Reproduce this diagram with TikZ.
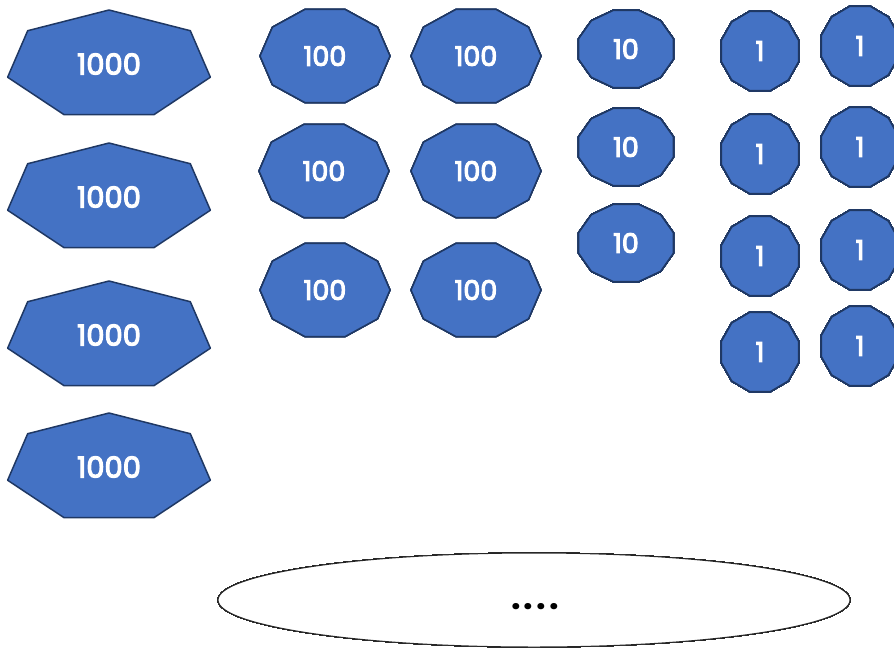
\documentclass[tikz,border=0pt]{standalone}
\usepackage{fontspec}
\usetikzlibrary{shapes.geometric}
\setmainfont{Poppins}
\newfontfamily\coinfont{Poppins}[FakeBold=4]
\definecolor{coinblue}{HTML}{4472C4}
\definecolor{coinedge}{HTML}{1F3864}
\tikzset{
  coinline/.style={draw=coinedge, fill=coinblue, line width=1.5pt, line join=round},
  coinlbl/.style={text=white, inner sep=0pt, font=\coinfont\fontsize{27}{27}\selectfont},
}
% name, x, y, rx, ry, sides, start angle, label
\newcommand{\coin}[8]{%
  \draw[coinline] plot[variable=\t, samples=\the\numexpr#6+1\relax, domain=#7:#7+360]
    ({#2+#4*cos(\t)},{#3+#5*sin(\t)}) -- cycle;
  \node[coinlbl] (#1) at (#2,#3) {#8};}
\begin{document}
\begin{tikzpicture}[x=1pt, y=-1pt]
  \useasboundingbox (0,0) rectangle (894,648);
  \clip (0,0) rectangle (894,648);
  % thousands
  \foreach \n/\cy in {1/65,2/198,3/336,4/468}
    \coin{th\n}{109}{\cy}{104}{55}{7}{270}{\fontsize{29}{29}\selectfont\raisebox{2pt}{1000}}
  % hundreds
  \foreach \n/\cx/\cy in {1/325/56,2/476/56,3/324/171,4/476/171,5/325/290,6/476/290}
    \coin{hu\n}{\cx}{\cy}{65}{49}{10}{0}{100}
  % tens
  \foreach \n/\cy in {1/49,2/147,3/243}
    \coin{te\n}{626}{\cy}{49}{40}{12}{15}{10}
  % ones
  \foreach \n/\cx/\cy in {1/760/51,2/860/46,3/760/154,4/860/147,5/760/256,6/860/250,7/760/352,8/860/346}
    \coin{on\n}{\cx}{\cy}{40}{41}{12}{15}{1}
  % remainder
  \node[draw=black!85, line width=1pt, fill=white, ellipse, minimum width=632pt, minimum height=94pt, inner sep=0pt] (rest) at (534,600) {};
  \node[inner sep=0pt, font=\bfseries\fontsize{34}{34}\selectfont] (dots) at (535,607) {.\kern3pt.\kern3pt.\kern3pt.};
\end{tikzpicture}
\end{document}
